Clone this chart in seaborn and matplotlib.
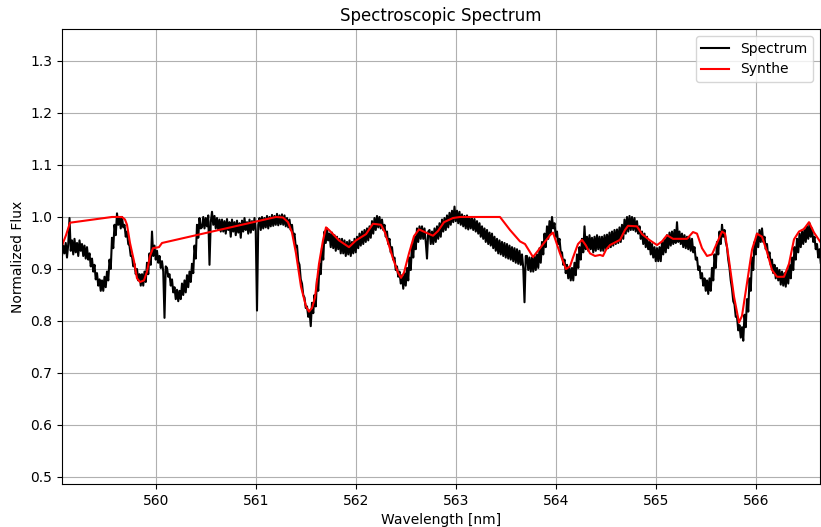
import numpy as np
import pandas as pd
import matplotlib
matplotlib.use("Agg")
import matplotlib.pyplot as plt
import seaborn as sns

# Observed spectrum, sampled every 0.0125 nm starting at 559.06 nm
WL_START = 559.06
WL_STEP = 0.0125
spectrum_flux = [
    0.925, 0.945, 0.930, 0.950, 0.922, 0.948, 0.998, 0.935, 0.955, 0.928, 0.958, 0.932, 0.950, 0.925, 0.955, 0.935,
    0.948, 0.925, 0.945, 0.920, 0.942, 0.918, 0.930, 0.905, 0.920, 0.895, 0.908, 0.880, 0.892, 0.868, 0.880, 0.858,
    0.878, 0.858, 0.885, 0.865, 0.895, 0.878, 0.918, 0.900, 0.960, 0.940, 0.985, 0.965, 1.007, 0.985, 1.000, 0.978,
    1.000, 0.980, 0.985, 0.962, 0.972, 0.948, 0.945, 0.925, 0.925, 0.905, 0.910, 0.890, 0.900, 0.878, 0.890, 0.868,
    0.890, 0.868, 0.895, 0.875, 0.912, 0.890, 0.930, 0.908, 0.972, 0.925, 0.945, 0.918, 0.935, 0.912, 0.925, 0.902,
    0.915, 0.895, 0.806, 0.905, 0.902, 0.885, 0.890, 0.868, 0.880, 0.855, 0.865, 0.842, 0.860, 0.838, 0.858, 0.842,
    0.872, 0.850, 0.878, 0.855, 0.888, 0.865, 0.895, 0.875, 0.910, 0.892, 0.945, 0.920, 0.985, 0.960, 0.998, 0.978,
    0.980, 1.000, 0.978, 0.998, 0.982, 1.003, 0.908, 0.990, 1.010, 0.985, 1.002, 0.978, 0.998, 0.975, 0.995, 0.972,
    0.995, 0.972, 0.992, 0.968, 0.996, 0.975, 0.990, 0.962, 0.995, 0.972, 0.990, 0.965, 0.993, 0.970, 0.988, 0.960,
    0.993, 0.972, 0.998, 0.975, 0.990, 0.968, 0.995, 0.970, 0.992, 0.975, 0.998, 0.972, 0.820, 0.985, 0.998, 0.975,
    1.000, 0.978, 0.998, 0.980, 1.002, 0.978, 1.000, 0.982, 1.004, 0.983, 1.002, 0.985, 1.006, 0.984, 1.003, 0.986,
    1.005, 0.985, 1.003, 0.982, 0.998, 0.980, 0.995, 0.975, 0.985, 0.962, 0.968, 0.942, 0.945, 0.915, 0.908, 0.880,
    0.872, 0.850, 0.845, 0.825, 0.828, 0.808, 0.820, 0.790, 0.835, 0.815, 0.850, 0.828, 0.880, 0.858, 0.910, 0.890,
    0.940, 0.918, 0.972, 0.950, 0.978, 0.955, 0.968, 0.942, 0.970, 0.940, 0.965, 0.935, 0.962, 0.938, 0.958, 0.930,
    0.958, 0.930, 0.955, 0.925, 0.952, 0.928, 0.955, 0.925, 0.952, 0.930, 0.958, 0.932, 0.962, 0.940, 0.968, 0.945,
    0.972, 0.948, 0.975, 0.952, 0.978, 0.955, 0.982, 0.960, 0.992, 0.968, 0.998, 0.975, 1.002, 0.980, 1.000, 0.978,
    0.995, 0.975, 0.985, 0.962, 0.972, 0.948, 0.958, 0.932, 0.942, 0.918, 0.922, 0.898, 0.905, 0.885, 0.895, 0.872,
    0.888, 0.862, 0.892, 0.868, 0.902, 0.878, 0.922, 0.898, 0.948, 0.922, 0.962, 0.938, 0.978, 0.952, 0.982, 0.958,
    0.982, 0.958, 0.978, 0.952, 0.920, 0.972, 0.975, 0.948, 0.972, 0.948, 0.978, 0.952, 0.982, 0.958, 0.988, 0.962,
    0.995, 0.972, 0.998, 0.975, 1.003, 0.980, 1.008, 0.985, 1.012, 0.990, 1.020, 0.992, 1.012, 0.988, 1.010, 0.985,
    1.005, 0.982, 1.002, 0.978, 1.003, 0.976, 1.000, 0.978, 0.998, 0.975, 0.996, 0.972, 0.992, 0.968, 0.988, 0.962,
    0.982, 0.958, 0.978, 0.952, 0.975, 0.948, 0.970, 0.945, 0.968, 0.940, 0.962, 0.935, 0.958, 0.930, 0.955, 0.928,
    0.952, 0.925, 0.950, 0.922, 0.948, 0.920, 0.945, 0.918, 0.942, 0.915, 0.940, 0.912, 0.938, 0.910, 0.935, 0.908,
    0.928, 0.902, 0.836, 0.925, 0.925, 0.898, 0.922, 0.895, 0.922, 0.895, 0.925, 0.898, 0.928, 0.902, 0.940, 0.912,
    0.952, 0.928, 0.968, 0.942, 0.982, 0.958, 0.992, 0.968, 1.000, 0.978, 0.988, 0.962, 0.972, 0.948, 0.958, 0.932,
    0.932, 0.908, 0.918, 0.892, 0.908, 0.882, 0.902, 0.878, 0.902, 0.878, 0.912, 0.888, 0.928, 0.902, 0.942, 0.918,
    0.958, 0.932, 0.982, 0.938, 0.962, 0.935, 0.965, 0.938, 0.960, 0.932, 0.962, 0.935, 0.965, 0.938, 0.962, 0.935,
    0.962, 0.935, 0.965, 0.938, 0.966, 0.940, 0.970, 0.942, 0.972, 0.945, 0.975, 0.948, 0.976, 0.950, 0.980, 0.952,
    0.985, 0.958, 0.995, 0.968, 1.000, 0.972, 1.002, 0.975, 1.000, 0.975, 0.998, 0.972, 0.992, 0.968, 0.982, 0.958,
    0.972, 0.948, 0.968, 0.942, 0.962, 0.938, 0.952, 0.928, 0.948, 0.922, 0.942, 0.915, 0.940, 0.915, 0.942, 0.915,
    0.952, 0.928, 0.958, 0.932, 0.965, 0.940, 0.970, 0.945, 0.972, 0.948, 0.975, 0.950, 0.990, 0.952, 0.972, 0.948,
    0.968, 0.942, 0.965, 0.940, 0.962, 0.938, 0.960, 0.935, 0.958, 0.932, 0.942, 0.918, 0.922, 0.898, 0.905, 0.882,
    0.892, 0.868, 0.882, 0.858, 0.878, 0.852, 0.882, 0.858, 0.902, 0.878, 0.928, 0.902, 0.952, 0.928, 0.972, 0.948,
    0.985, 0.962, 0.975, 0.952, 0.942, 0.918, 0.902, 0.878, 0.862, 0.838, 0.832, 0.808, 0.808, 0.782, 0.792, 0.768,
    0.788, 0.762, 0.812, 0.788, 0.842, 0.818, 0.882, 0.858, 0.922, 0.898, 0.952, 0.928, 0.968, 0.942, 0.975, 0.952,
    0.978, 0.952, 0.962, 0.938, 0.948, 0.922, 0.932, 0.908, 0.918, 0.892, 0.908, 0.882, 0.902, 0.878, 0.898, 0.870,
    0.895, 0.868, 0.892, 0.866, 0.898, 0.872, 0.908, 0.882, 0.922, 0.898, 0.942, 0.918, 0.958, 0.932, 0.968, 0.942,
    0.972, 0.948, 0.978, 0.952, 0.982, 0.958, 0.988, 0.962, 0.978, 0.952, 0.962, 0.938, 0.948, 0.922, 0.938, 0.912,
]

# Synthetic model spectrum (nodes in nm and normalized flux)
synthe_wl = [
    559.06, 559.10, 559.14, 559.56, 559.66, 559.69, 559.71, 559.74, 559.78,
    559.81, 559.84, 559.88, 559.91, 559.94, 559.97, 560.03, 560.06, 561.20,
    561.27, 561.32, 561.36, 561.40, 561.45, 561.50, 561.53, 561.56, 561.59,
    561.63, 561.67, 561.70, 561.73, 561.83, 561.93, 562.00, 562.10, 562.17,
    562.25, 562.29, 562.33, 562.37, 562.42, 562.45, 562.48, 562.53, 562.58,
    562.63, 562.70, 562.77, 562.82, 562.88, 562.97, 563.04, 563.44, 563.54,
    563.64, 563.69, 563.77, 563.84, 563.94, 563.97, 564.04, 564.10, 564.14,
    564.17, 564.22, 564.26, 564.30, 564.34, 564.39, 564.44, 564.47, 564.50,
    564.54, 564.64, 564.69, 564.72, 564.81, 564.86, 564.94, 565.01, 565.06,
    565.11, 565.17, 565.24, 565.31, 565.37, 565.41, 565.46, 565.51, 565.56,
    565.61, 565.66, 565.69, 565.73, 565.78, 565.83, 565.86, 565.91, 565.96,
    566.01, 566.06, 566.11, 566.16, 566.21, 566.28, 566.33, 566.38, 566.43,
    566.48, 566.53, 566.58, 566.65,
]
synthe_flux = [
    0.945, 0.965, 0.989, 1.000, 1.000, 0.995, 0.985, 0.950, 0.915,
    0.882, 0.875, 0.878, 0.895, 0.925, 0.940, 0.942, 0.950, 1.000,
    0.999, 0.990, 0.970, 0.930, 0.866, 0.828, 0.818, 0.825, 0.845,
    0.910, 0.955, 0.980, 0.975, 0.955, 0.942, 0.955, 0.967, 0.987,
    0.985, 0.970, 0.945, 0.920, 0.893, 0.883, 0.893, 0.930, 0.963,
    0.976, 0.970, 0.964, 0.973, 0.990, 0.998, 1.000, 1.000, 0.975,
    0.953, 0.948, 0.923, 0.940, 0.965, 0.970, 0.930, 0.900, 0.905,
    0.922, 0.948, 0.956, 0.945, 0.930, 0.925, 0.927, 0.925, 0.937,
    0.946, 0.956, 0.975, 0.983, 0.982, 0.967, 0.955, 0.946, 0.953,
    0.965, 0.958, 0.958, 0.958, 0.971, 0.968, 0.940, 0.925, 0.928,
    0.950, 0.972, 0.968, 0.917, 0.847, 0.797, 0.810, 0.873, 0.937,
    0.968, 0.962, 0.933, 0.898, 0.885, 0.885, 0.910, 0.957, 0.972,
    0.977, 0.990, 0.970, 0.950,
]

spectrum_wl = WL_START + WL_STEP * np.arange(len(spectrum_flux))
obs = pd.DataFrame({"wavelength": spectrum_wl, "flux": spectrum_flux})
syn = pd.DataFrame({"wavelength": synthe_wl, "flux": synthe_flux})

fig = plt.figure(figsize=(8.21, 5.27), dpi=100)
ax = fig.add_axes([62 / 821, 1 - 484 / 527, (820 - 62) / 821, (484 - 29) / 527])

sns.lineplot(data=obs, x="wavelength", y="flux", ax=ax, color="black",
             linewidth=1.5, label="Spectrum", sort=False, estimator=None)
sns.lineplot(data=syn, x="wavelength", y="flux", ax=ax, color="red",
             linewidth=1.5, label="Synthe", sort=False, estimator=None)

ax.set_xlim(559.06, 566.64)
ax.set_ylim(0.4865, 1.3615)
ax.set_xticks(np.arange(560, 567, 1))
ax.set_yticks(np.arange(0.5, 1.35, 0.1))
ax.grid(True)
ax.set_title("Spectroscopic Spectrum")
ax.set_xlabel("Wavelength [nm]")
ax.set_ylabel("Normalized Flux")
ax.legend(loc="upper right")

fig.savefig("out.png", dpi=100)
